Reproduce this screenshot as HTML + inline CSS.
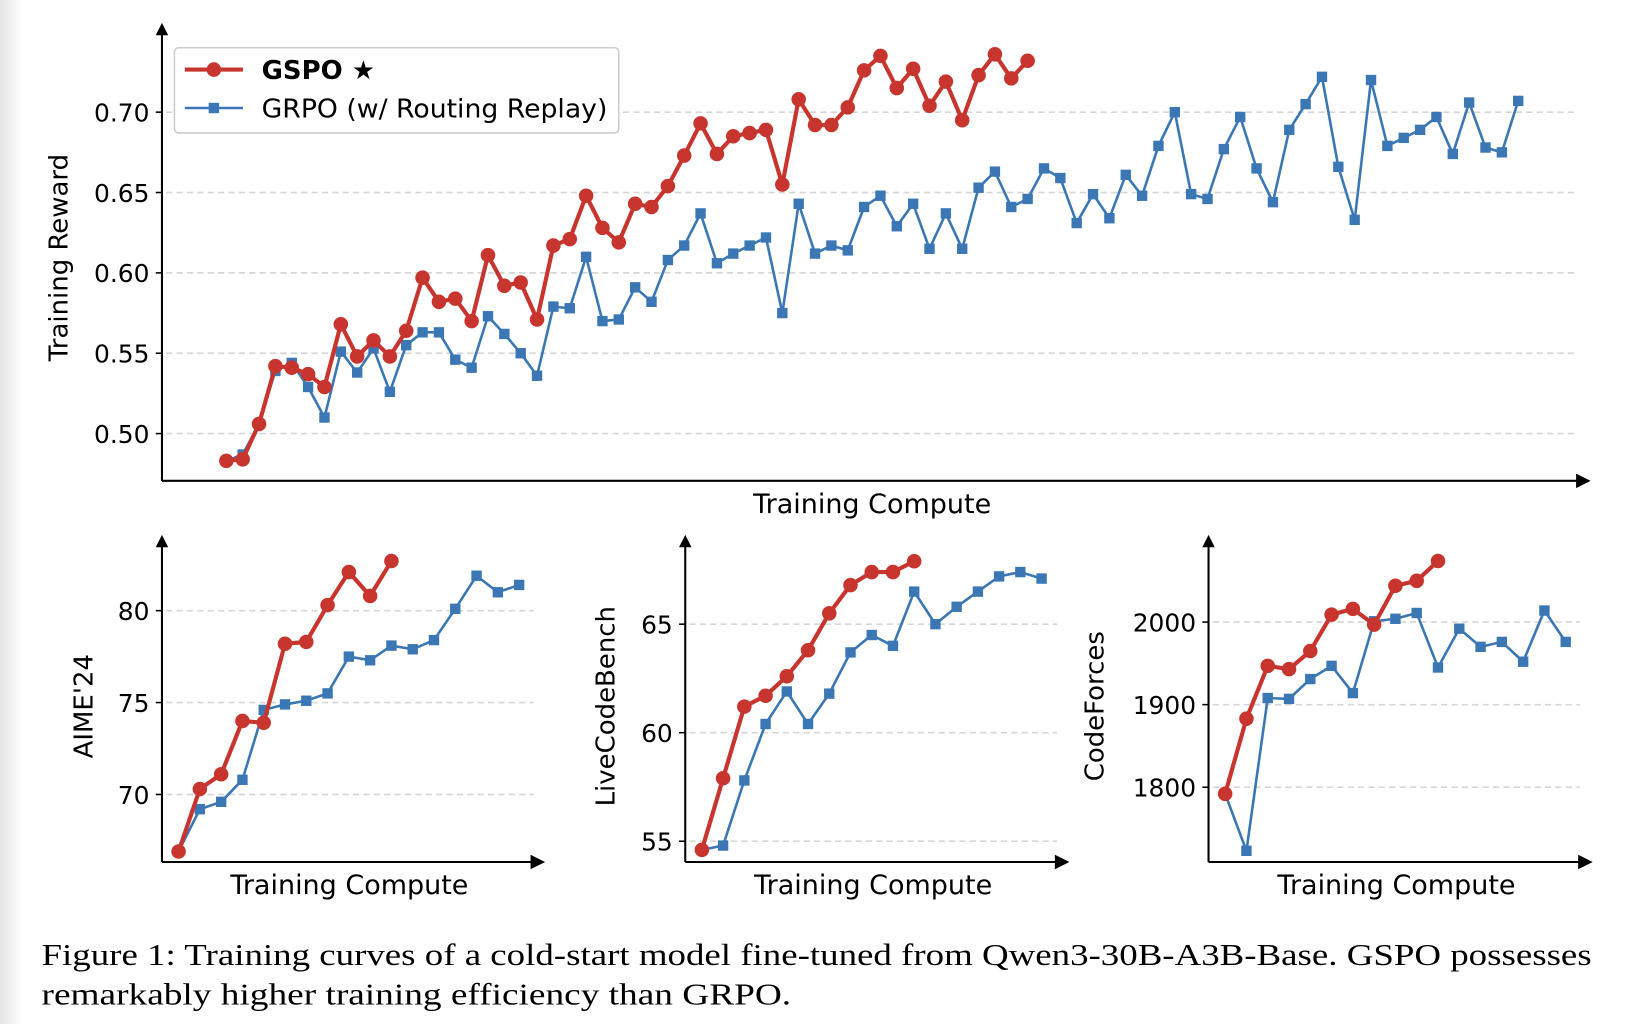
<!DOCTYPE html>
<html><head><meta charset="utf-8"><style>
html,body{margin:0;padding:0;background:#fff;}
svg{display:block;}
text{font-family:"DejaVu Sans","Liberation Sans",sans-serif;}
</style></head><body>
<svg id="fig" width="1628" height="1024" viewBox="0 0 1568 986" preserveAspectRatio="none" xmlns="http://www.w3.org/2000/svg">
<defs><linearGradient id="shade" x1="0" x2="1"><stop offset="0" stop-color="#e4e4e4"/><stop offset="1" stop-color="#ffffff"/></linearGradient></defs>
<rect x="0" y="0" width="22" height="986" fill="url(#shade)"/>
<g id="plots"></g>
<g>
<rect x="168" y="46" width="428" height="82" rx="4" fill="#fff" stroke="#cccccc" stroke-width="1.5"/>
<g>
<line x1="178" y1="67" x2="234" y2="67" stroke="#c8352e" stroke-width="4"/><circle cx="206" cy="67" r="7" fill="#c8352e"/>
<text x="252" y="76" font-size="25" font-weight="bold">GSPO ★</text></g>
<g>
<line x1="178" y1="104" x2="234" y2="104" stroke="#3a77b4" stroke-width="2.5"/><rect x="201" y="99" width="10" height="10" fill="#3a77b4"/>
<text x="252" y="113" font-size="25" textLength="333" lengthAdjust="spacingAndGlyphs">GRPO (w/ Routing Replay)</text></g>
</g>
<g>
<text x="40" y="929" font-size="30" textLength="1493" lengthAdjust="spacingAndGlyphs" style="font-family:'Liberation Serif',serif">Figure 1: Training curves of a cold-start model fine-tuned from Qwen3-30B-A3B-Base. GSPO possesses</text>
<text x="40" y="967" font-size="30" textLength="722" lengthAdjust="spacingAndGlyphs" style="font-family:'Liberation Serif',serif">remarkably higher training efficiency than GRPO.</text>
</g>
</svg>
<script>
const rewardGspo=[0.483,0.484,0.506,0.542,0.541,0.537,0.529,0.568,0.548,0.558,0.548,0.564,0.597,0.582,0.584,0.570,0.611,0.592,0.594,0.571,0.617,0.621,0.648,0.628,0.619,0.643,0.641,0.654,0.673,0.693,0.674,0.685,0.687,0.689,0.655,0.708,0.692,0.692,0.703,0.726,0.735,0.715,0.727,0.704,0.719,0.695,0.723,0.736,0.721,0.732];
const rewardGrpo=[0.483,0.487,0.506,0.539,0.544,0.529,0.510,0.551,0.538,0.553,0.526,0.555,0.563,0.563,0.546,0.541,0.573,0.562,0.550,0.536,0.579,0.578,0.610,0.570,0.571,0.591,0.582,0.608,0.617,0.637,0.606,0.612,0.617,0.622,0.575,0.643,0.612,0.617,0.614,0.641,0.648,0.629,0.643,0.615,0.637,0.615,0.653,0.663,0.641,0.646,0.665,0.659,0.631,0.649,0.634,0.661,0.648,0.679,0.700,0.649,0.646,0.677,0.697,0.665,0.644,0.689,0.705,0.722,0.666,0.633,0.720,0.679,0.684,0.689,0.697,0.674,0.706,0.678,0.675,0.707];
const rewardTicks=[0.50,0.55,0.60,0.65,0.70];
const aimeGspo=[66.9,70.3,71.1,74.0,73.9,78.2,78.3,80.3,82.1,80.8,82.7];
const aimeGrpo=[66.9,69.2,69.6,70.8,74.6,74.9,75.1,75.5,77.5,77.3,78.1,77.9,78.4,80.1,81.9,81.0,81.4];
const aimeTicks=[70,75,80];
const lcbGspo=[54.6,57.9,61.2,61.7,62.6,63.8,65.5,66.8,67.4,67.4,67.9];
const lcbGrpo=[54.6,54.8,57.8,60.4,61.9,60.4,61.8,63.7,64.5,64.0,66.5,65.0,65.8,66.5,67.2,67.4,67.1];
const lcbTicks=[55,60,65];
const cfGspo=[1792,1883,1947,1943,1965,2009,2016,1997,2044,2050,2074];
const cfGrpo=[1792,1723,1908,1907,1931,1947,1914,2001,2004,2011,1945,1992,1970,1976,1952,2014,1976];
const cfTicks=[1800,1900,2000];

const NS='http://www.w3.org/2000/svg';
const root=document.getElementById('plots');
function mk(tag,attrs,parent){const e=document.createElementNS(NS,tag);for(const k in attrs)e.setAttribute(k,attrs[k]);parent.appendChild(e);return e;}

function panel(p){
  const g=mk('g',{},root);
  
  
  const ys=v=>p.y0+(v-p.v0)*(p.y1-p.y0)/(p.v1-p.v0);
  const xs=i=>p.x0+i*p.step;
  p.ticks.forEach(t=>{
    const y=ys(t);
    const gl=mk('line',{x1:p.ax+4,x2:p.gridEnd,y1:y,y2:y,stroke:'#d6d6d6','stroke-width':1.6,'stroke-dasharray':'6 4'},g);
    
    
    mk('line',{x1:p.ax-6,x2:p.ax,y1:y,y2:y,stroke:'#000','stroke-width':1.5},g);
    const tl=mk('text',{x:p.ax-12,y:y+9,'font-size':24,'text-anchor':'end'},g);
    tl.textContent=p.fmt(t);
    
    
  });
  const ya=mk('line',{x1:p.ax,x2:p.ax,y1:p.axBottom,y2:p.axTop+8,stroke:'#000','stroke-width':2},g);
  
  
  mk('polygon',{points:`${p.ax-6},${p.axTop+12} ${p.ax+6},${p.axTop+12} ${p.ax},${p.axTop}`,fill:'#000'},g);
  const xa=mk('line',{x1:p.ax,x2:p.axRight-8,y1:p.axBottom,y2:p.axBottom,stroke:'#000','stroke-width':2},g);
  
  
  mk('polygon',{points:`${p.axRight-14},${p.axBottom-7} ${p.axRight-14},${p.axBottom+7} ${p.axRight},${p.axBottom}`,fill:'#000'},g);
  const xt=mk('text',{x:(p.ax+p.axRight)/2-4,y:p.axBottom+31,'font-size':26,'text-anchor':'middle'},g);
  xt.textContent='Training Compute';
  
  
  const yt=mk('text',{x:0,y:0,'font-size':25,'text-anchor':'middle',transform:`translate(${p.ytx},${p.yty}) rotate(-90)`},g);
  yt.textContent=p.ylabel;
  
  
  const bp=mk('polyline',{points:p.grpo.map((v,i)=>xs(i)+','+ys(v)).join(' '),fill:'none',stroke:'#3a77b4','stroke-width':2.5},g);
  
  
  p.grpo.forEach((v,i)=>{
    const m=mk('rect',{x:xs(i)-5,y:ys(v)-5,width:10,height:10,fill:'#3a77b4'},g);
    
    
  });
  const rp=mk('polyline',{points:p.gspo.map((v,i)=>xs(i)+','+ys(v)).join(' '),fill:'none',stroke:'#c8352e','stroke-width':4,'stroke-linejoin':'round'},g);
  
  
  p.gspo.forEach((v,i)=>{
    const m=mk('circle',{cx:xs(i),cy:ys(v),r:7,fill:'#c8352e'},g);
    
    
  });
}
panel({name:'training-reward-chart',gspo:rewardGspo,grpo:rewardGrpo,ticks:rewardTicks,fmt:t=>t.toFixed(2),
  v0:0.50,y0:417.5,v1:0.70,y1:108,x0:218,step:15.75,ax:156,axTop:22,axBottom:463,axRight:1532,gridEnd:1520,
  ylabel:'Training Reward',ytx:65,yty:248});
panel({name:'aime24-chart',gspo:aimeGspo,grpo:aimeGrpo,ticks:aimeTicks,fmt:t=>String(t),
  v0:70,y0:765,v1:80,y1:588,x0:172,step:20.5,ax:156,axTop:515,axBottom:830,axRight:525,gridEnd:514,
  ylabel:"AIME'24",ytx:89,yty:680});
panel({name:'livecodebench-chart',gspo:lcbGspo,grpo:lcbGrpo,ticks:lcbTicks,fmt:t=>String(t),
  v0:55,y0:810,v1:65,y1:601,x0:676,step:20.45,ax:660,axTop:515,axBottom:830,axRight:1030,gridEnd:1018,
  ylabel:'LiveCodeBench',ytx:592,yty:680});
panel({name:'codeforces-chart',gspo:cfGspo,grpo:cfGrpo,ticks:cfTicks,fmt:t=>String(t),
  v0:1800,y0:758,v1:2000,y1:599,x0:1180,step:20.5,ax:1164,axTop:515,axBottom:830,axRight:1534,gridEnd:1522,
  ylabel:'CodeForces',ytx:1063,yty:680});
</script>
</body></html>
